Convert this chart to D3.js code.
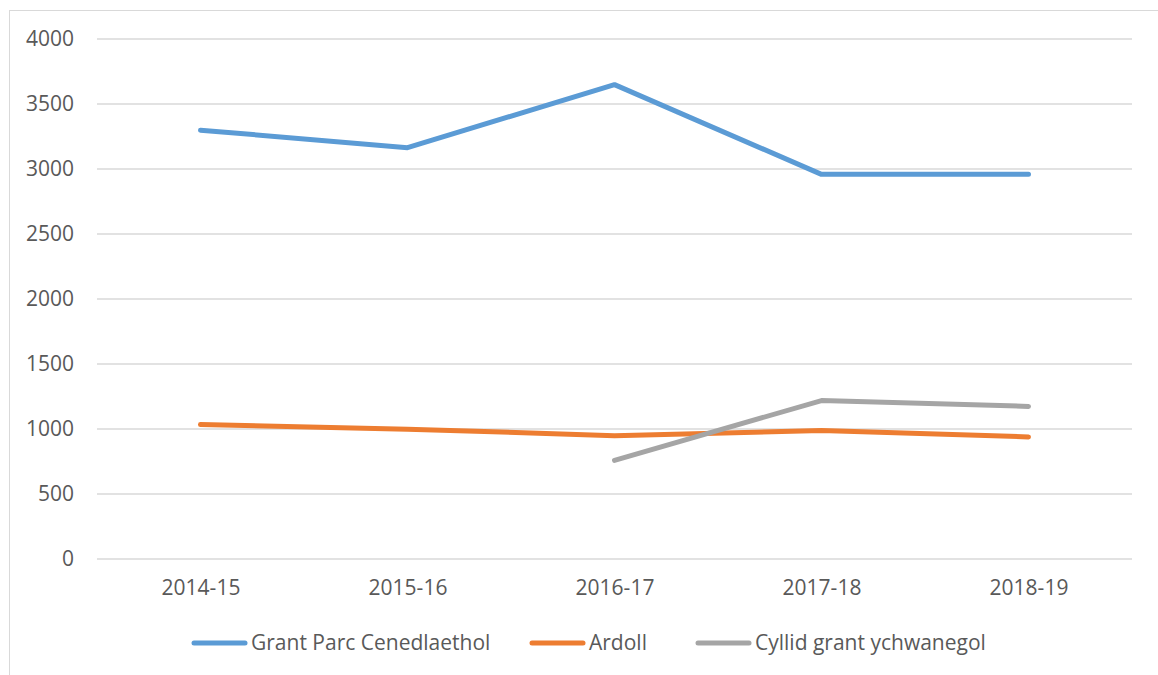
<!DOCTYPE html>
<html>
<head>
<meta charset="utf-8">
<script src="https://cdn.jsdelivr.net/npm/d3@7"></script>
<style>
  body { margin: 0; background: #fff; }
  text { font-family: "Open Sans", sans-serif; fill: #595959; }
</style>
</head>
<body>
<div class="chart"></div>
<script>
var years = ["2014-15", "2015-16", "2016-17", "2017-18", "2018-19"];
var grantParc = [3295, 3160, 3645, 2955, 2955];
var ardoll = [1030, 995, 945, 985, 935];
var cyllidGrant = [null, null, 755, 1215, 1170];
var yTicks = [0, 500, 1000, 1500, 2000, 2500, 3000, 3500, 4000];

var seriesNames = ["Grant Parc Cenedlaethol", "Ardoll", "Cyllid grant ychwanegol"];
var seriesColors = ["#5B9BD5", "#ED7D31", "#A5A5A5"];
var seriesValues = [grantParc, ardoll, cyllidGrant];

var svgWidth = 1158;
var svgHeight = 675;
var margin = { top: 38.5, right: 26, bottom: 116.5, left: 97 };
var width = svgWidth - margin.left - margin.right;
var height = svgHeight - margin.top - margin.bottom;

var svg = d3.select(".chart")
  .append("svg")
  .attr("width", svgWidth)
  .attr("height", svgHeight);

// outer chart frame (only top and left edges fall inside the window)
svg.append("rect")
  .attr("x", 9.5)
  .attr("y", 10.5)
  .attr("width", 1200)
  .attr("height", 700)
  .attr("fill", "none")
  .attr("stroke", "#D9D9D9")
  .attr("stroke-width", 1);

var chartGroup = svg.append("g")
  .attr("transform", `translate(${margin.left}, ${margin.top})`);

var xScale = d3.scalePoint()
  .domain(years)
  .range([0, width])
  .padding(0.5);

var yScale = d3.scaleLinear()
  .domain([0, 4000])
  .range([height, 0]);

// gridlines + y labels
var leftAxis = d3.axisLeft(yScale)
  .tickValues(yTicks)
  .tickSize(-width)
  .tickPadding(23)
  .tickFormat(d3.format("d"));

var yAxis = chartGroup.append("g").call(leftAxis);
yAxis.select(".domain").remove();
yAxis.selectAll("line").attr("stroke", "#D9D9D9").attr("stroke-width", 1.5);
yAxis.selectAll("text").style("font-size", "21px").attr("fill", "#595959")
  .style("font-family", "Open Sans, sans-serif");

var bottomAxis = d3.axisBottom(xScale).tickSize(0).tickPadding(22);
var xAxis = chartGroup.append("g")
  .attr("transform", `translate(0, ${height})`)
  .call(bottomAxis);
xAxis.select(".domain").remove();
xAxis.selectAll("text").style("font-size", "21px").attr("fill", "#595959")
  .style("font-family", "Open Sans, sans-serif");

// lines
var line = d3.line()
  .defined(d => d.v != null)
  .x(d => xScale(d.year))
  .y(d => yScale(d.v));

seriesValues.forEach(function(vals, i) {
  var data = years.map((y, j) => ({ year: y, v: vals[j] }));
  chartGroup.append("path")
    .datum(data)
    .attr("fill", "none")
    .attr("stroke", seriesColors[i])
    .attr("stroke-width", 5)
    .attr("stroke-linecap", "round")
    .attr("stroke-linejoin", "round")
    .attr("d", line);
});

// legend
var legendX = [192, 530, 696];
var legendY = 643;
var legend = svg.append("g");
seriesNames.forEach(function(name, i) {
  legend.append("line")
    .attr("x1", legendX[i] + 2)
    .attr("x2", legendX[i] + 53)
    .attr("y1", legendY)
    .attr("y2", legendY)
    .attr("stroke", seriesColors[i])
    .attr("stroke-width", 5)
    .attr("stroke-linecap", "round");
  legend.append("text")
    .attr("x", legendX[i] + 59)
    .attr("y", legendY)
    .attr("dy", "0.35em")
    .style("font-size", "21px")
    .text(name);
});
</script>
</body>
</html>
